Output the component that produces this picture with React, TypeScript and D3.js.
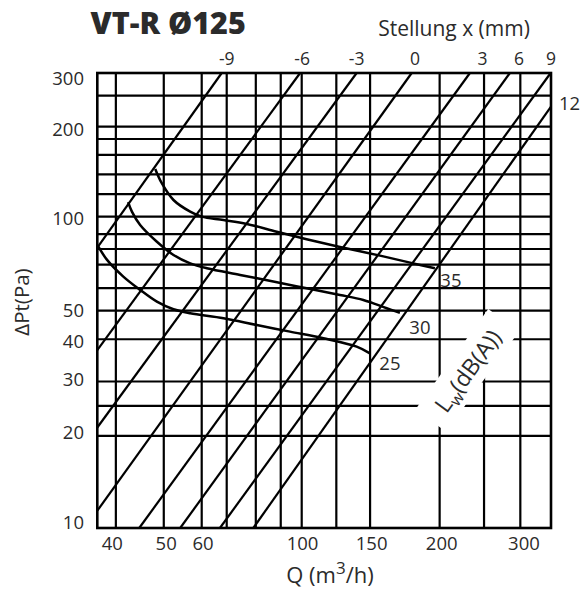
import React from 'react';
import * as d3 from 'd3';

// Grid values
const xGrid = [39.3, 50, 60.5, 68.6, 79.4, 90, 100, 119, 141, 200, 250, 300];
const yGrid = [10, 19.9, 24.9, 29.9, 41, 50.8, 60.1, 71.6, 80.5, 89.9, 102.5, 121.4, 140.7, 162.6, 183.2, 200.9, 253.3, 300];

// Bottom axis tick labels
const xTickPos = [38.6, 50.6, 60.9, 100.4, 142.1, 202.1, 305.5];
const xTickLabels = ['40', '50', '60', '100', '150', '200', '300'];

// Left axis tick labels
const yTickPos = [289, 196.5, 101.5, 50.7, 40.5, 30.3, 20.5, 10.46];
const yTickLabels = ['300', '200', '100', '50', '40', '30', '20', '10'];

// Top axis (Stellung x) labels
const topTickPos = [68.6, 100.2, 131.8, 176.7, 248, 297.9, 350];
const topTickLabels = ['-9', '-6', '-3', '0', '3', '6', '9'];

// Setting lines: start [Q, Pa] and end [Q, Pa]
const settingNames = ['-9', '-6', '-3', '0', '3', '6', '9', '12'];
const settingStart: [number, number][] = [
  [35.8, 81.3], [35.8, 37.8], [35.8, 21.2], [35.8, 11.38],
  [44.2, 10], [54.3, 10], [66.3, 10], [78.4, 10],
];
const settingEnd: [number, number][] = [
  [66.9, 300], [99.2, 300], [131.8, 300], [173.8, 300],
  [232.9, 300], [284.7, 300], [349.4, 300], [350, 233.3],
];

// Sound power curves
const curve35Q = [47.9, 49.5, 52.5, 57.1, 60.5, 67.5, 75.9, 88.2, 102.5, 121.2, 148.2, 175.2, 195.3];
const curve35P = [146.4, 131.6, 116.1, 106.4, 102.5, 100, 97.1, 91.6, 86.6, 81.7, 76.6, 72.3, 69.7];
const curve30Q = [41.8, 42.6, 44.4, 48.3, 52.5, 57.1, 62.1, 73.4, 86.7, 102.5, 121.2, 136.3, 153.3, 163.8];
const curve30P = [114.2, 106.4, 96.3, 85.0, 77.0, 72.3, 69.7, 66.3, 63.1, 60.0, 57.1, 55.0, 51.7, 50.0];
const curve25Q = [36.0, 37.6, 40.8, 44.4, 48.3, 52.5, 57.1, 67.5, 79.8, 94.3, 111.5, 131.8, 140.9];
const curve25P = [81.9, 74.2, 65.5, 59.3, 54.3, 51.3, 49.8, 48.0, 45.6, 43.4, 41.3, 38.8, 36.9];
const curveLabels = ['35', '30', '25'];

const W = 583;
const H = 591;
const FONT = '"Open Sans", sans-serif';
const TXT = '#2b2b2b';

export default function App() {
  const x = d3.scaleLog().domain([35.8, 350]).range([97.3, 551]);
  const y = d3.scaleLog().domain([10, 300]).range([528, 73]);
  const x0 = x(35.8), x1 = x(350), y0 = y(10), y1 = y(300);

  const line = d3
    .line<[number, number]>()
    .x((d) => x(d[0]))
    .y((d) => y(d[1]))
    .curve(d3.curveCatmullRom.alpha(0.5));

  const curves = [
    curve35Q.map((q, i) => [q, curve35P[i]] as [number, number]),
    curve30Q.map((q, i) => [q, curve30P[i]] as [number, number]),
    curve25Q.map((q, i) => [q, curve25P[i]] as [number, number]),
  ];

  const labelOffsets = [
    [16, 19],
    [20, 21],
    [20, 17],
  ];

  const lwX = 468;
  const lwY = 371;

  return (
    <svg
      width={W}
      height={H}
      style={{ position: 'absolute', left: 0, top: 0, background: '#fff' }}
      fontFamily={FONT}
    >
      <rect x={0} y={0} width={W} height={H} fill="#fff" />
      {/* grid */}
      <g stroke="#000" strokeWidth={2.2}>
        {xGrid.map((v, i) => (
          <line key={'vx' + i} x1={x(v)} x2={x(v)} y1={y1} y2={y0} />
        ))}
        {yGrid.map((v, i) => (
          <line key={'hy' + i} x1={x0} x2={x1} y1={y(v)} y2={y(v)} />
        ))}
      </g>
      {/* setting lines */}
      <g stroke="#000" strokeWidth={2.2}>
        {settingNames.map((n, i) => (
          <line
            key={'s' + n}
            x1={x(settingStart[i][0])}
            y1={y(settingStart[i][1])}
            x2={x(settingEnd[i][0])}
            y2={y(settingEnd[i][1])}
          />
        ))}
      </g>
      {/* curves */}
      <g fill="none" stroke="#000" strokeWidth={2.5}>
        {curves.map((c, i) => (
          <path key={'c' + i} d={line(c) || ''} />
        ))}
      </g>
      {/* frame */}
      <rect x={x0} y={y1} width={x1 - x0} height={y0 - y1} fill="none" stroke="#000" strokeWidth={2.6} />

      {/* Lw label with white background */}
      <g transform={`translate(${lwX},${lwY}) rotate(-54)`}>
        <rect x={-62} y={-20} width={124} height={38} fill="#fff" />
        <text x={0} y={8} textAnchor="middle" fontSize={23} fill={TXT}>
          <tspan>L</tspan>
          <tspan fontSize={16} dy={5}>w</tspan>
          <tspan dy={-5}>(dB(A))</tspan>
        </text>
      </g>

      {/* curve labels */}
      {curves.map((c, i) => {
        const last = c[c.length - 1];
        return (
          <text
            key={'cl' + i}
            x={x(last[0]) + labelOffsets[i][0]}
            y={y(last[1]) + labelOffsets[i][1]}
            textAnchor="middle"
            fontSize={18.5}
            fill={TXT}
          >
            {curveLabels[i]}
          </text>
        );
      })}

      {/* left ticks */}
      {yTickLabels.map((t, i) => (
        <text key={'yl' + t} x={84} y={y(yTickPos[i])} dy="0.36em" textAnchor="end" fontSize={18.5} fill={TXT}>
          {t}
        </text>
      ))}
      {/* bottom ticks */}
      {xTickLabels.map((t, i) => (
        <text key={'xl' + t} x={x(xTickPos[i])} y={550} textAnchor="middle" fontSize={18.5} fill={TXT}>
          {t}
        </text>
      ))}
      {/* top ticks */}
      {topTickLabels.map((t, i) => (
        <text key={'tl' + t} x={x(topTickPos[i])} y={65} textAnchor="middle" fontSize={17.5} fill={TXT}>
          {t}
        </text>
      ))}
      <text x={559} y={y(239.3)} dy="0.36em" fontSize={18.5} fill={TXT}>
        12
      </text>

      {/* titles */}
      <text x={90.5} y={34.3} fontSize={30.5} fontWeight={800} fill={TXT}>
        VT-R Ø125
      </text>
      <text x={454} y={35.5} textAnchor="middle" fontSize={21} fill={TXT}>
        Stellung x (mm)
      </text>
      <text x={330} y={583} textAnchor="middle" fontSize={22} fill={TXT}>
        <tspan>Q (m</tspan>
        <tspan fontSize={17} dy={-9}>3</tspan>
        <tspan dy={9}>/h)</tspan>
      </text>
      <text
        transform="translate(29,302) rotate(-90)"
        textAnchor="middle"
        fontSize={20.5}
        fill={TXT}
      >
        ΔPt(Pa)
      </text>
    </svg>
  );
}
